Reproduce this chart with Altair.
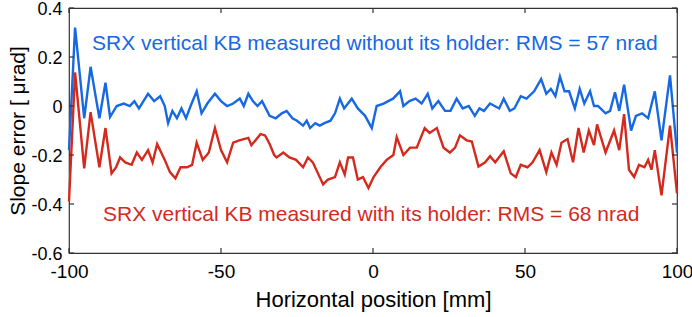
import altair as alt
import pandas as pd

# Blue series: measured without holder
blue_x = [-100, -98, -95, -92.9, -90, -88, -86.5, -84.3, -82, -80, -78.5, -77, -75.5, -74, -72, -70,
          -68.5, -67.4, -66, -64.5, -63, -61.5, -60, -58, -56.4, -54.5, -52, -50, -48, -46, -43.8,
          -42.5, -41, -39.5, -38, -36.5, -34, -32, -30, -28.4, -26.5, -25, -23, -21.8, -20.7, -19,
          -17.5, -16, -14, -12.5, -10.9, -9.5, -7, -5, -2.6, -0.4, 1.2, 3.5, 5, 6.6, 8.9, 10, 12,
          14, 16, 18, 19.5, 21.5, 23.7, 25.5, 27.5, 29.5, 31.5, 33.5, 35, 36.5, 38.5, 40, 41.5, 43,
          45, 46.5, 48.6, 50.5, 53, 55.3, 57, 58.5, 60, 61.5, 63, 64.5, 66.4, 68, 69.5, 71.4, 72.7,
          74, 76.5, 78, 79.6, 81, 82.6, 84.9, 86.5, 88.5, 90.5, 92.7, 94.9, 97.7, 100]
blue_y = [-0.18, 0.32, -0.05, 0.16, -0.05, 0.095, -0.045, 0.0, 0.01, 0.0, 0.02, -0.01, 0.02, 0.05, 0.02, 0.04,
          0.0, -0.07, -0.02, -0.05, -0.01, -0.05, 0.0, 0.06, -0.03, 0.01, 0.05, 0.02, 0.0, 0.01, 0.03,
          0.0, 0.05, 0.02, 0.0, 0.02, -0.04, -0.05, -0.03, -0.02, -0.05, -0.06, -0.08, -0.06, -0.09, -0.07,
          -0.08, -0.07, -0.06, -0.03, 0.03, -0.01, 0.03, -0.01, -0.04, -0.09, 0.0, 0.01, 0.02, 0.03, 0.06, 0.0, 0.02,
          0.03, 0.01, 0.05, -0.01, 0.02, -0.02, -0.02, 0.03, -0.01, 0.0, -0.04, -0.01, -0.02, 0.01, 0.0, -0.01, 0.03,
          -0.02, -0.01, 0.04, 0.03, 0.06, 0.11, 0.05, 0.07, 0.04, 0.12, 0.06, 0.06, -0.01, 0.07, 0.01, 0.06, 0.0,
          0.0, -0.03, -0.02, 0.056, -0.02, 0.087, -0.10, -0.04, -0.03, -0.05, 0.06, -0.14, 0.125, -0.19]

# Red series: measured with holder
red_x = [-100, -98, -95, -92.9, -90, -88, -86, -84.5, -83.2, -81.5, -79.4, -77.7, -76, -74, -72.5, -71,
         -68.5, -66.8, -65, -63.3, -61.2, -59.5, -58, -56, -54, -52, -50, -48, -46, -44, -41, -40, -37,
         -35.5, -34, -32.5, -31.7, -29.5, -27.5, -25.3, -23, -21.4, -19.8, -16.4, -14.8, -12.5, -10.9,
         -9.3, -8.2, -6.6, -5, -3.3, -1.5, 0.2, 2.4, 4.5, 6.7, 7.8, 10, 12.2, 14.4, 17, 18.6, 21, 23.2,
         25.3, 27, 28.6, 30.8, 32.5, 34.7, 36.9, 38.5, 40.2, 43, 45.3, 47, 48.6, 50.8, 52.5, 54.8, 57,
         58.7, 60.4, 62, 64, 65.8, 67.6, 69.3, 71, 72.7, 73.7, 76.5, 79.3, 81, 82.6, 84.2, 85.9, 87.5,
         89.3, 90.5, 91.6, 92.7, 94.9, 97.7, 100]
red_y = [-0.39, 0.137, -0.255, -0.025, -0.25, -0.09, -0.275, -0.25, -0.21, -0.23, -0.24, -0.19, -0.22, -0.18, -0.23, -0.155,
         -0.22, -0.27, -0.295, -0.25, -0.25, -0.24, -0.15, -0.22, -0.19, -0.09, -0.18, -0.23, -0.15, -0.14, -0.13, -0.16, -0.115,
         -0.12, -0.155, -0.2, -0.21, -0.19, -0.21, -0.22, -0.25, -0.21, -0.23, -0.32, -0.30, -0.29, -0.23,
         -0.28, -0.21, -0.21, -0.30, -0.29, -0.335, -0.29, -0.25, -0.22, -0.2, -0.127, -0.2, -0.17, -0.17, -0.09, -0.11, -0.09, -0.17,
         -0.19, -0.17, -0.12, -0.14, -0.145, -0.247, -0.23, -0.205, -0.23, -0.185, -0.275, -0.29, -0.24, -0.25, -0.23, -0.18, -0.27,
         -0.19, -0.24, -0.15, -0.135, -0.23, -0.09, -0.19, -0.1, -0.16, -0.075, -0.19, -0.10, -0.18, -0.033, -0.26, -0.29, -0.24,
         -0.25, -0.22, -0.26, -0.18, -0.365, -0.08, -0.357]

series_names = ["without holder", "with holder"]
series_colors = ["#1668e3", "#d42a1e"]

ann_text = ["SRX vertical KB measured without its holder: RMS = 57 nrad",
            "SRX vertical KB measured with its holder: RMS = 68 nrad"]
ann_x = [-92.4, -88.8]
ann_y = [0.254, -0.445]

x_ticks = [-100, -50, 0, 50, 100]
y_ticks = [-0.6, -0.4, -0.2, 0, 0.2, 0.4]

W, H = 608, 245
TL = 5  # inward tick length in px

df = pd.concat([
    pd.DataFrame({"x": blue_x, "y": blue_y, "series": series_names[0]}),
    pd.DataFrame({"x": red_x, "y": red_y, "series": series_names[1]}),
])
ann = pd.DataFrame({"x": ann_x, "y": ann_y, "text": ann_text, "series": series_names})
xt = pd.DataFrame({"x": x_ticks})
yt = pd.DataFrame({"y": y_ticks})

xs = alt.Scale(domain=[-100, 100], nice=False, zero=False)
ys = alt.Scale(domain=[-0.6, 0.4], nice=False, zero=False)
cs = alt.Scale(domain=series_names, range=series_colors)

FONT = "Liberation Sans"
AX = "#333"

x_axis = alt.Axis(
    values=x_ticks, ticks=False, domain=False, grid=False, labelFlush=False,
    labelFontSize=19, labelPadding=9, labelColor="#000", labelFont=FONT,
    labelExpr="'' + datum.value",
    title="Horizontal position [mm]", titleFontSize=22, titleFont=FONT,
    titleFontWeight="normal", titleColor="#000", titleBaseline="middle", titleY=46)
y_axis = alt.Axis(
    values=y_ticks, ticks=False, domain=False, grid=False, labelFlush=False,
    labelFontSize=18, labelPadding=7, labelOffset=1, labelColor="#000", labelFont=FONT,
    labelExpr="'' + datum.value",
    title="Slope error [ μrad]", titleFontSize=21, titleFont=FONT,
    titleFontWeight="normal", titleColor="#000", titleBaseline="middle",
    titleAngle=-90, titleX=-51, titleY=H / 2)

X = alt.X("x:Q", scale=xs, axis=x_axis)
Y = alt.Y("y:Q", scale=ys, axis=y_axis)

lines = alt.Chart(df).mark_line(strokeWidth=2.4).encode(
    x=X, y=Y,
    color=alt.Color("series:N", scale=cs, legend=None),
    detail="series:N",
)

# inward ticks on all four sides, positioned through the shared scales
xtick_b = alt.Chart(xt).mark_rule(color=AX, strokeWidth=1.2).encode(
    x=X, y=alt.value(H), y2=alt.value(H - TL))
xtick_t = alt.Chart(xt).mark_rule(color=AX, strokeWidth=1.2).encode(
    x=X, y=alt.value(0), y2=alt.value(TL))
ytick_l = alt.Chart(yt).mark_rule(color=AX, strokeWidth=1.2).encode(
    y=Y, x=alt.value(0), x2=alt.value(TL))
ytick_r = alt.Chart(yt).mark_rule(color=AX, strokeWidth=1.2).encode(
    y=Y, x=alt.value(W), x2=alt.value(W - TL))

texts = alt.Chart(ann).mark_text(align="left", baseline="middle", fontSize=21, font=FONT).encode(
    x=X, y=Y,
    text="text:N",
    color=alt.Color("series:N", scale=cs, legend=None),
)

chart = alt.layer(lines, xtick_b, xtick_t, ytick_l, ytick_r, texts).properties(
    width=W, height=H,
    autosize=alt.AutoSizeParams(type="none"),
    padding={"left": 69, "top": 8, "right": 15, "bottom": 64},
    background="white",
).configure_view(stroke=AX, strokeWidth=1.2)

chart.save("out.html", embed_options={"renderer": "svg", "actions": False})
